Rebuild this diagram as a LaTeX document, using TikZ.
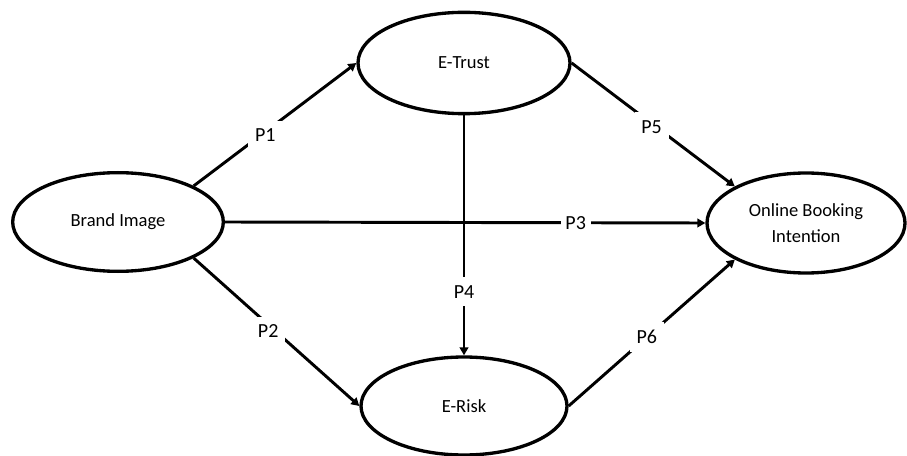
\documentclass[tikz,border=0pt]{standalone}
\usepackage{fontspec}
\setmainfont{Carlito}
\usetikzlibrary{shapes.geometric,arrows.meta}
\begin{document}
\begin{tikzpicture}[x=0.75pt,y=-0.75pt,
  construct/.style={ellipse,draw,line width=2.5pt,inner sep=0pt,align=center,
    font=\fontsize{13.9}{19.5}\selectfont},
  link/.style={line width=2.2pt,-{Triangle[length=6pt,width=6.5pt]}},
  plabel/.style={fill=white,inner xsep=5pt,inner ysep=6pt,
    font=\fontsize{15}{18}\selectfont}]
\useasboundingbox (0,0) rectangle (907,456);

% constructs
\node[construct,minimum width=158pt,minimum height=74pt] (brand) at (118,222) {Brand Image};
\node[construct,minimum width=159pt,minimum height=76pt] (trust) at (464,63) {E-Trust};
\node[construct,minimum width=154.5pt,minimum height=73.5pt] (risk) at (464,406) {E-Risk};
\node[construct,minimum width=148.5pt,minimum height=75pt] (intent) at (806,223) {Online Booking\\Intention};

% hypothesised paths
\draw[link] (brand.north east) -- node[plabel,pos=0.44,yshift=-2.5pt] (p1) {P1} (trust.west);
\draw[link] (brand.south east) -- node[plabel,pos=0.45,yshift=-5pt] (p2) {P2} (risk.west);
\draw[link] (brand.east) -- node[plabel,inner xsep=3.5pt,pos=0.73] (p3) {P3} (intent.west);
\draw[link] (trust.south) -- node[plabel,pos=0.735] (p4) {P4} (risk.north);
\draw[link] (trust.east) -- node[plabel,pos=0.49,yshift=-2.5pt] (p5) {P5} (intent.north west);
\draw[link] (risk.east) -- node[plabel,pos=0.47] (p6) {P6} (intent.south west);
\end{tikzpicture}
\end{document}
